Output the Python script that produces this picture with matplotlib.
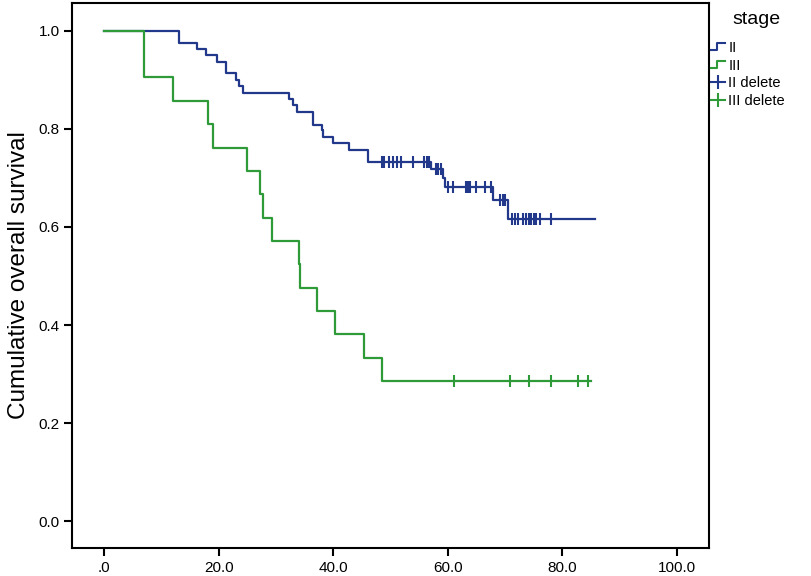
import matplotlib
matplotlib.use("Agg")
import matplotlib.pyplot as plt
from matplotlib.lines import Line2D
from matplotlib.legend_handler import HandlerBase

plt.rcParams['font.family'] = ['Liberation Sans', 'DejaVu Sans']

# ---- data ----
blue_t = [0, 13.1, 16.2, 17.8, 19.7, 21.3, 23.0, 23.6, 24.2, 32.3, 33.0, 33.6, 36.4,
          38.0, 38.2, 39.9, 42.8, 46.1, 57.1, 59.1, 59.5, 67.9, 70.6, 85.7]
blue_s = [1.0, 0.976, 0.963, 0.951, 0.937, 0.914, 0.900, 0.888, 0.874, 0.861, 0.849,
          0.835, 0.808, 0.797, 0.783, 0.771, 0.757, 0.733, 0.718, 0.699, 0.682, 0.655,
          0.616, 0.616]
blue_cens_t = [48.5, 48.9, 49.7, 50.5, 51.2, 51.8, 53.9, 55.9, 56.3, 56.8,
               57.9, 58.3, 58.8,
               60.1, 60.9, 63.2, 63.5, 63.9, 64.9, 66.5, 67.5,
               69.1, 69.6, 70.0,
               71.2, 71.7, 72.3, 73.1, 73.6, 74.2, 74.6, 75.0, 75.5, 76.2, 78.1]
blue_cens_s = [0.733] * 10 + [0.718] * 3 + [0.682] * 8 + [0.655] * 3 + [0.616] * 11

green_t = [0, 7.0, 12.0, 18.1, 19.1, 25.0, 27.2, 27.8, 29.3, 34.0, 34.2, 37.2, 40.3,
           45.4, 48.5, 85.0]
green_s = [1.0, 0.905, 0.857, 0.810, 0.762, 0.714, 0.667, 0.619, 0.571, 0.524, 0.476,
           0.429, 0.381, 0.333, 0.286, 0.286]
green_cens_t = [61.1, 70.9, 74.2, 78.0, 82.7, 84.5]
green_cens_s = [0.286] * 6

x_ticks = [0, 20, 40, 60, 80, 100]
x_ticklabels = ['.0', '20.0', '40.0', '60.0', '80.0', '100.0']
y_ticks = [0.0, 0.2, 0.4, 0.6, 0.8, 1.0]
y_ticklabels = ['0.0', '0.2', '0.4', '0.6', '0.8', '1.0']

BLUE = '#22388a'
GREEN = '#2f9a38'

fig = plt.figure(figsize=(8.12, 5.76), dpi=100)
ax = fig.add_axes([0.0887, 0.0486, 0.873 - 0.0887, 0.9948 - 0.0486])

ax.plot(blue_t, blue_s, drawstyle='steps-post', color=BLUE, lw=1.6)
ax.plot(blue_cens_t, blue_cens_s, linestyle='none', marker='|', markersize=8,
        mew=1.5, color=BLUE)
ax.plot(green_t, green_s, drawstyle='steps-post', color=GREEN, lw=1.6)
ax.plot(green_cens_t, green_cens_s, linestyle='none', marker='|', markersize=8,
        mew=1.5, color=GREEN)

ax.set_xlim(-5.6, 105.6)
ax.set_ylim(-0.055, 1.057)
ax.set_xticks(x_ticks)
ax.set_xticklabels(x_ticklabels)
ax.set_yticks(y_ticks)
ax.set_yticklabels(y_ticklabels)
ax.tick_params(direction='out', length=6, width=1.5, labelsize=11, pad=3)
for sp in ax.spines.values():
    sp.set_linewidth(1.5)
ax.set_ylabel('Cumulative overall survival', fontsize=17.5, labelpad=6)


class StepHandler(HandlerBase):
    def create_artists(self, legend, orig_handle, xdescent, ydescent, width,
                       height, fontsize, trans):
        x0 = -xdescent
        y0 = -ydescent
        xs = [x0, x0 + 0.45 * width, x0 + 0.45 * width, x0 + width]
        ys = [y0 + 0.15 * height, y0 + 0.15 * height, y0 + 0.85 * height,
              y0 + 0.85 * height]
        ln = Line2D(xs, ys, color=orig_handle.get_color(), lw=1.5)
        ln.set_transform(trans)
        return [ln]


h_ii = Line2D([], [], color=BLUE)
h_iii = Line2D([], [], color=GREEN)
h_iid = Line2D([], [], color=BLUE, marker='|', markersize=10, mew=1.5, lw=1.5)
h_iiid = Line2D([], [], color=GREEN, marker='|', markersize=10, mew=1.5, lw=1.5)

fig.text(756 / 812, 1 - 19 / 576, 'stage', fontsize=14, ha='center', va='center')
leg = fig.legend([h_ii, h_iii, h_iid, h_iiid], ['II', 'III', 'II delete', 'III delete'],
                 loc='upper left', bbox_to_anchor=(0.868, 0.939), frameon=False,
                 fontsize=10.5,
                 handlelength=1.0, handletextpad=0.2, labelspacing=0.25,
                 numpoints=1, borderaxespad=0,
                 handler_map={h_ii: StepHandler(), h_iii: StepHandler()})

fig.savefig('out.png', dpi=100)
